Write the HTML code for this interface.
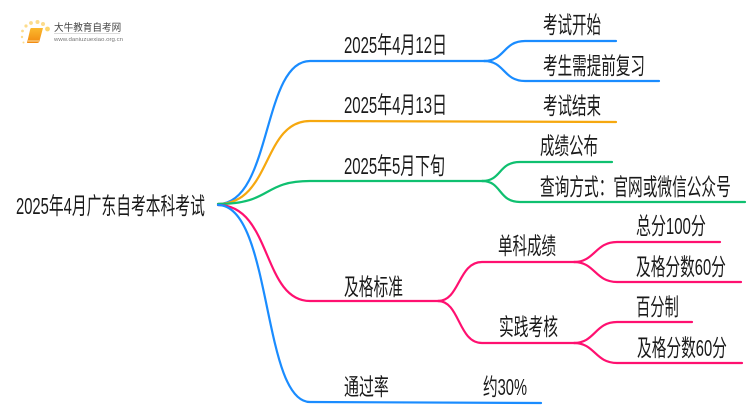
<!DOCTYPE html>
<html><head><meta charset="utf-8">
<style>
html,body{margin:0;padding:0;background:#fff;width:750px;height:410px;overflow:hidden}
svg{display:block}
text{font-family:"Liberation Sans","Noto Sans CJK SC",sans-serif;fill:#1a1a1a}
.t{font-size:23.5px}
.p{fill:none;stroke-width:2.2;stroke-linecap:round}
</style></head><body>
<svg width="750" height="410" viewBox="0 0 750 410" xmlns="http://www.w3.org/2000/svg">
<defs><linearGradient id="b" x1="0" y1="0" x2="0" y2="1"><stop offset="0" stop-color="#fbb92e"/><stop offset="1" stop-color="#f28a10"/></linearGradient></defs>
<!-- logo -->
<g fill="#fcdc8c">
<circle cx="47.5" cy="29" r="2.4" fill="#fdd66e"/><circle cx="43" cy="24" r="2"/><circle cx="37.5" cy="22" r="2"/><circle cx="31" cy="23" r="1.9"/><circle cx="26" cy="26" r="1.6"/><circle cx="22.5" cy="31" r="1.4"/><circle cx="22" cy="37" r="1.2"/><circle cx="23.5" cy="42.5" r="1"/>
</g>
<path d="M31 28 H43 L39.5 41 Q39 43 37 43 H27 L30 30 Q30.3 28.5 31 28 Z" fill="url(#b)"/>
<path d="M28 41 H39" stroke="#fde0a8" stroke-width="1"/>
<text transform="translate(54 31) scale(.96 1)" font-size="10" style="fill:#444">大牛教育自考网</text>
<rect x="54" y="33" width="66" height="0.7" fill="#ccc"/>
<text x="54" y="41" font-size="5.5" textLength="69" lengthAdjust="spacingAndGlyphs" style="fill:#777">www.daniuzuexiao.org.cn</text>

<!-- connectors -->
<g>
<path class="p" stroke="#1a8cff" d="M218 204 C272 204 262 61 310 61 H487"/>
<path class="p" stroke="#1a8cff" d="M484 61 C505 61 503 41 525 41 H616"/>
<path class="p" stroke="#1a8cff" d="M484 61 C505 61 503 81 525 81 H659"/>
<path class="p" stroke="#f6a80f" d="M218 204 C272 204 262 121 310 121 L616 122"/>
<path class="p" stroke="#0fc070" d="M218 204 C272 204 262 181 310 181 H485"/>
<path class="p" stroke="#0fc070" d="M482 181 C502 181 498 162 520 162 H612"/>
<path class="p" stroke="#0fc070" d="M482 181 C502 181 498 202 520 202 H745"/>
<path class="p" stroke="#ff1070" d="M218 205 C272 205 262 301 310 301 H443"/>
<path class="p" stroke="#ff1070" d="M438 301 C460 301 458 262 482 262 H578"/>
<path class="p" stroke="#ff1070" d="M438 301 C460 301 458 343 482 343 H578"/>
<path class="p" stroke="#ff1070" d="M574 262 C595 262 595 242 617 242 H720"/>
<path class="p" stroke="#ff1070" d="M574 262 C595 262 595 282 617 282 H741"/>
<path class="p" stroke="#ff1070" d="M574 343 C595 343 595 322 617 322 H692"/>
<path class="p" stroke="#ff1070" d="M574 343 C595 343 595 363 617 363 H742"/>
<path class="p" stroke="#1a8cff" d="M218 205 C272 205 262 402 310 402 L541 403"/>
</g>

<!-- labels -->
<text class="t" transform="translate(16 214) scale(.629 1)">2025年4月广东自考本科考试</text>
<text class="t" transform="translate(344 53) scale(.636 1)">2025年4月12日</text>
<text class="t" transform="translate(344 113) scale(.636 1)">2025年4月13日</text>
<text class="t" transform="translate(344 174) scale(.634 1)">2025年5月下旬</text>
<text class="t" transform="translate(344 295) scale(.627 1)">及格标准</text>
<text class="t" transform="translate(344 395) scale(.637 1)">通过率</text>
<text class="t" transform="translate(543 33) scale(.618 1)">考试开始</text>
<text class="t" transform="translate(543 74) scale(.62 1)">考生需提前复习</text>
<text class="t" transform="translate(543 114) scale(.618 1)">考试结束</text>
<text class="t" transform="translate(540 154) scale(.618 1)">成绩公布</text>
<text class="t" transform="translate(540 195) scale(.625 1)">查询方式：官网或微信公众号</text>
<text class="t" transform="translate(498 254) scale(.618 1)">单科成绩</text>
<text class="t" transform="translate(499 335) scale(.627 1)">实践考核</text>
<text class="t" transform="translate(636 234) scale(.637 1)">总分100分</text>
<text class="t" transform="translate(636 275) scale(.626 1)">及格分数60分</text>
<text class="t" transform="translate(636 315) scale(.608 1)">百分制</text>
<text class="t" transform="translate(637 356) scale(.626 1)">及格分数60分</text>
<text class="t" transform="translate(483 395) scale(.624 1)">约30%</text>
</svg>
</body></html>
